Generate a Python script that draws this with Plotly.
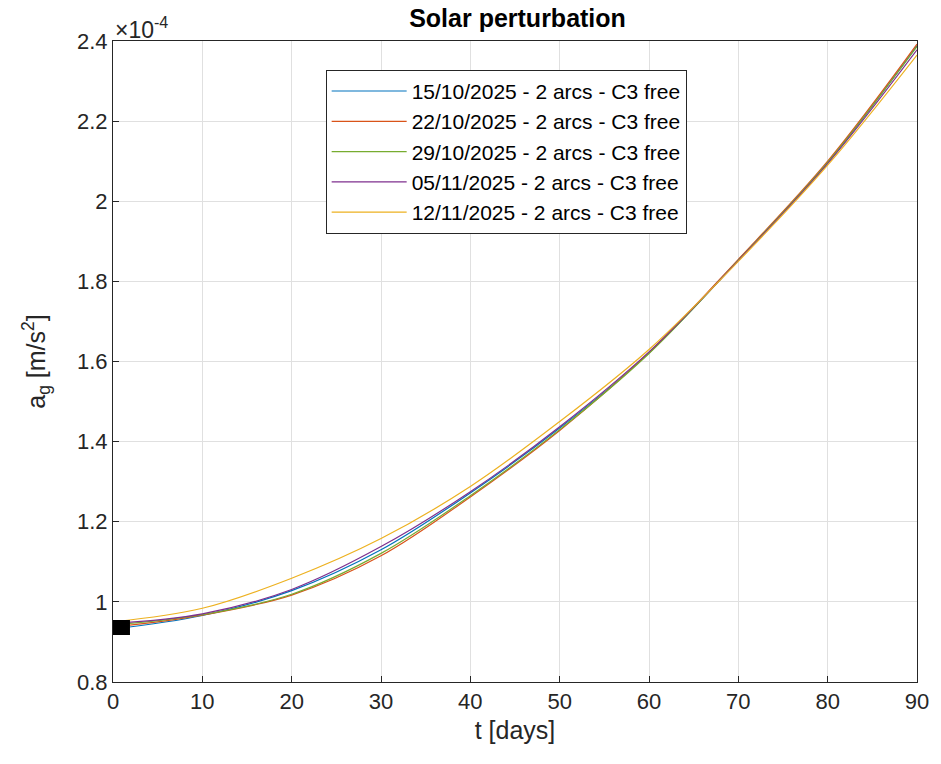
import plotly.graph_objects as go

t_days = [0, 10, 20, 30, 40, 50, 60, 70, 80, 90]

series_names = [
    "15/10/2025 - 2 arcs - C3 free",
    "22/10/2025 - 2 arcs - C3 free",
    "29/10/2025 - 2 arcs - C3 free",
    "05/11/2025 - 2 arcs - C3 free",
    "12/11/2025 - 2 arcs - C3 free",
]
a_15_10 = [0.932, 0.966, 1.028, 1.130, 1.272, 1.434, 1.621, 1.853, 2.096, 2.388]
a_22_10 = [0.937, 0.967, 1.017, 1.115, 1.262, 1.428, 1.622, 1.855, 2.100, 2.392]
a_29_10 = [0.942, 0.968, 1.019, 1.121, 1.265, 1.430, 1.620, 1.853, 2.097, 2.386]
a_05_11 = [0.946, 0.970, 1.031, 1.138, 1.275, 1.437, 1.624, 1.852, 2.094, 2.378]
a_12_11 = [0.950, 0.984, 1.059, 1.158, 1.288, 1.450, 1.630, 1.850, 2.090, 2.365]
series_values = [a_15_10, a_22_10, a_29_10, a_05_11, a_12_11]
colors = ["#0072BD", "#D95319", "#77AC30", "#7E2F8E", "#EDB120"]

start_t = [0, 1.9]
start_a = [0.936, 0.936]

x_ticks = [0, 10, 20, 30, 40, 50, 60, 70, 80, 90]
y_ticks = [0.8, 1.0, 1.2, 1.4, 1.6, 1.8, 2.0, 2.2, 2.4]
y_ticktext = ["0.8", "1", "1.2", "1.4", "1.6", "1.8", "2", "2.2", "2.4"]

FONT = "Liberation Sans, Arial, sans-serif"
AX = "#262626"

fig = go.Figure()
for name, vals, col in zip(series_names, series_values, colors):
    fig.add_trace(go.Scatter(x=t_days, y=vals, mode="lines", name=name,
                             line=dict(color=col, width=1.2, shape="spline", smoothing=1.0)))
fig.add_trace(go.Scatter(x=start_t, y=start_a, mode="lines", showlegend=False,
                         line=dict(color="black", width=15)))

axis_common = dict(showline=True, linecolor=AX, linewidth=1, mirror=True,
                   ticks="inside", ticklen=6, tickcolor=AX,
                   showgrid=True, gridcolor="#e0e0e0", gridwidth=1,
                   zeroline=False, tickfont=dict(family=FONT, size=22, color=AX))

fig.update_xaxes(range=[0, 90], tickvals=x_ticks,
                 title=dict(text="t [days]", font=dict(family=FONT, size=25, color=AX), standoff=8),
                 **axis_common)
fig.update_yaxes(range=[0.8, 2.4], tickvals=y_ticks, ticktext=y_ticktext,
                 title=dict(text="a<sub>g</sub> [m/s<sup>2</sup>]", font=dict(family=FONT, size=25, color=AX), standoff=24),
                 **axis_common)

fig.update_layout(
    width=941, height=764,
    margin=dict(l=113, r=19, t=41, b=82),
    paper_bgcolor="white", plot_bgcolor="white",
    title=dict(text="<b>Solar perturbation</b>", x=(113 + 809 / 2) / 941, xanchor="center",
               y=1 - 18 / 764, yanchor="middle", font=dict(family=FONT, size=25, color="black")),
    legend=dict(x=0.2645, y=0.955, xanchor="left", yanchor="top",
                bgcolor="white", bordercolor=AX, borderwidth=1,
                font=dict(family=FONT, size=21, color="black"),
                itemwidth=75, tracegroupgap=0),
    showlegend=True,
)
fig.add_annotation(text="\u00d710<sup>-4</sup>", xref="paper", yref="paper",
                   x=0, y=1, xanchor="left", yanchor="bottom", showarrow=False,
                   font=dict(family=FONT, size=23, color=AX), yshift=-4)

fig.write_html("out.html")
